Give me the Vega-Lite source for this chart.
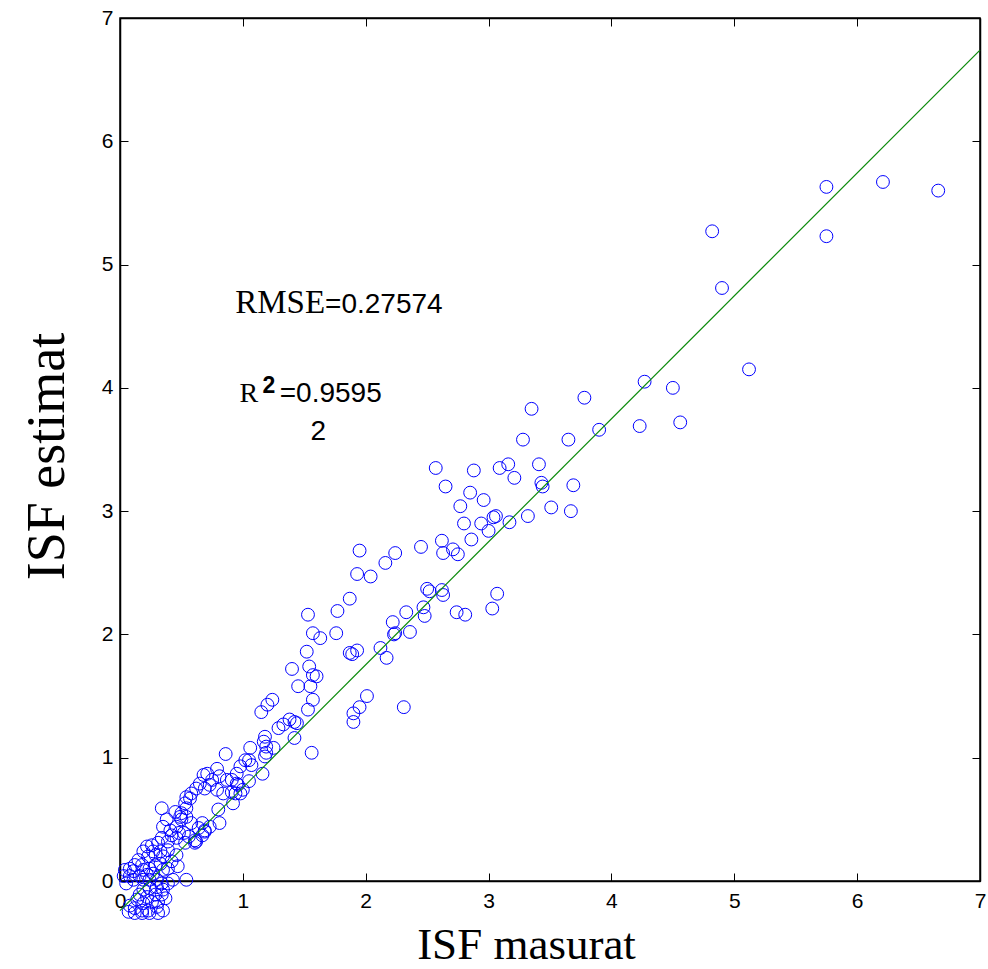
{
  "$schema": "https://vega.github.io/schema/vega-lite/v6.json",
  "width": 860,
  "height": 863,
  "autosize": {"type": "none"},
  "padding": {"left": 120, "top": 18, "right": 8, "bottom": 88},
  "background": "white",
  "config": {
    "view": {"stroke": "black", "strokeWidth": 1.5},
    "axis": {"grid": false, "domainColor": "black", "domainWidth": 1.5, "tickColor": "black", "tickWidth": 1, "labelColor": "black", "titleColor": "black", "labelFont": "Liberation Sans", "labelFontSize": 21, "labelFlush": false, "labelOverlap": false}
  },
  "datasets": {
    "points": [
      {"measured":5.75,"estimated":5.63},{"measured":6.21,"estimated":5.67},{"measured":6.66,"estimated":5.60},{"measured":4.82,"estimated":5.27},{"measured":5.75,"estimated":5.23},{"measured":4.90,"estimated":4.81},{"measured":5.12,"estimated":4.15},{"measured":4.27,"estimated":4.05},{"measured":4.50,"estimated":4.00},{"measured":4.23,"estimated":3.69},{"measured":4.56,"estimated":3.72},{"measured":3.90,"estimated":3.66},{"measured":3.78,"estimated":3.92},{"measured":3.35,"estimated":3.83},{"measured":3.28,"estimated":3.58},{"measured":3.65,"estimated":3.58},
      {"measured":2.57,"estimated":3.35},{"measured":2.88,"estimated":3.33},{"measured":3.09,"estimated":3.35},{"measured":3.16,"estimated":3.38},{"measured":3.41,"estimated":3.38},{"measured":3.21,"estimated":3.27},{"measured":2.65,"estimated":3.20},{"measured":3.44,"estimated":3.20},{"measured":3.43,"estimated":3.23},{"measured":3.69,"estimated":3.21},{"measured":2.85,"estimated":3.15},{"measured":2.96,"estimated":3.09},{"measured":2.77,"estimated":3.04},{"measured":3.51,"estimated":3.03},{"measured":3.67,"estimated":3.00},{"measured":3.32,"estimated":2.96},{"measured":3.06,"estimated":2.96},{"measured":3.04,"estimated":2.95},{"measured":2.80,"estimated":2.90},{"measured":2.94,"estimated":2.90},{"measured":3.17,"estimated":2.91},{"measured":3.00,"estimated":2.84},{"measured":2.86,"estimated":2.77},{"measured":2.62,"estimated":2.76},{"measured":2.45,"estimated":2.71},{"measured":2.63,"estimated":2.66},{"measured":2.71,"estimated":2.69},{"measured":2.75,"estimated":2.65},{"measured":2.24,"estimated":2.66},{"measured":1.95,"estimated":2.68},{"measured":2.16,"estimated":2.58},{"measured":1.93,"estimated":2.49},{"measured":2.04,"estimated":2.47},{"measured":1.87,"estimated":2.29},{"measured":1.77,"estimated":2.19},{"measured":1.76,"estimated":2.01},
      {"measured":2.50,"estimated":2.37},{"measured":2.52,"estimated":2.35},{"measured":2.62,"estimated":2.36},{"measured":2.63,"estimated":2.32},{"measured":3.07,"estimated":2.33},{"measured":3.03,"estimated":2.21},{"measured":2.33,"estimated":2.18},{"measured":2.47,"estimated":2.22},{"measured":2.48,"estimated":2.15},{"measured":2.74,"estimated":2.18},{"measured":2.81,"estimated":2.16},{"measured":2.22,"estimated":2.10},{"measured":2.23,"estimated":2.00},{"measured":2.24,"estimated":2.01},{"measured":2.36,"estimated":2.02},{"measured":2.12,"estimated":1.89},{"measured":2.17,"estimated":1.81},{"measured":1.87,"estimated":1.85},{"measured":1.93,"estimated":1.87},{"measured":1.89,"estimated":1.84},
      {"measured":1.53,"estimated":2.16},{"measured":1.57,"estimated":2.01},{"measured":1.63,"estimated":1.97},{"measured":1.52,"estimated":1.86},{"measured":1.40,"estimated":1.72},{"measured":1.54,"estimated":1.74},{"measured":1.57,"estimated":1.67},{"measured":1.60,"estimated":1.66},{"measured":1.45,"estimated":1.58},{"measured":1.55,"estimated":1.58},{"measured":1.57,"estimated":1.47},{"measured":1.53,"estimated":1.39},{"measured":2.01,"estimated":1.50},{"measured":1.95,"estimated":1.41},{"measured":1.90,"estimated":1.36},{"measured":1.90,"estimated":1.29},{"measured":2.31,"estimated":1.41},{"measured":1.24,"estimated":1.47},{"measured":1.20,"estimated":1.43},{"measured":1.15,"estimated":1.37},{"measured":1.56,"estimated":1.04},
      {"measured":1.42,"estimated":1.29},{"measured":1.44,"estimated":1.28},{"measured":1.42,"estimated":1.16},{"measured":1.38,"estimated":1.31},{"measured":1.33,"estimated":1.27},{"measured":1.29,"estimated":1.24},{"measured":1.18,"estimated":1.17},{"measured":1.17,"estimated":1.13},{"measured":1.19,"estimated":1.09},{"measured":1.25,"estimated":1.08},{"measured":1.18,"estimated":1.01},{"measured":1.19,"estimated":1.04},{"measured":1.06,"estimated":1.08},{"measured":1.02,"estimated":0.98},{"measured":1.05,"estimated":0.98},{"measured":0.98,"estimated":0.93},{"measured":0.95,"estimated":0.87},{"measured":0.91,"estimated":0.82},{"measured":0.96,"estimated":0.78},{"measured":0.86,"estimated":1.03},{"measured":1.16,"estimated":0.87},{"measured":1.07,"estimated":0.94},{"measured":1.05,"estimated":0.81},
      {"measured":0.68,"estimated":0.86},{"measured":0.79,"estimated":0.91},{"measured":0.81,"estimated":0.85},{"measured":0.75,"estimated":0.82},{"measured":0.65,"estimated":0.79},{"measured":0.69,"estimated":0.75},{"measured":0.62,"estimated":0.75},{"measured":0.79,"estimated":0.74},{"measured":0.58,"estimated":0.71},{"measured":0.54,"estimated":0.68},{"measured":0.84,"estimated":0.71},{"measured":0.91,"estimated":0.72},{"measured":0.98,"estimated":0.71},{"measured":0.92,"estimated":0.63},{"measured":0.94,"estimated":0.71},{"measured":1.00,"estimated":0.74},{"measured":0.95,"estimated":0.79},{"measured":0.87,"estimated":0.82},{"measured":0.71,"estimated":0.87},{"measured":0.73,"estimated":0.78},{"measured":0.57,"estimated":0.67},{"measured":0.53,"estimated":0.63},
      {"measured":0.34,"estimated":0.59},{"measured":0.54,"estimated":0.59},{"measured":0.49,"estimated":0.52},{"measured":0.80,"estimated":0.58},{"measured":0.45,"estimated":0.56},{"measured":0.38,"estimated":0.50},{"measured":0.35,"estimated":0.44},{"measured":0.41,"estimated":0.41},{"measured":0.46,"estimated":0.44},{"measured":0.50,"estimated":0.50},{"measured":0.50,"estimated":0.55},{"measured":0.54,"estimated":0.52},{"measured":0.58,"estimated":0.47},{"measured":0.64,"estimated":0.43},{"measured":0.69,"estimated":0.41},{"measured":0.62,"estimated":0.32},{"measured":0.67,"estimated":0.37},{"measured":0.61,"estimated":0.33},{"measured":0.69,"estimated":0.40},{"measured":0.67,"estimated":0.47},{"measured":0.73,"estimated":0.44},{"measured":0.81,"estimated":0.47},{"measured":0.52,"estimated":0.39},{"measured":0.46,"estimated":0.35},{"measured":0.48,"estimated":0.39},{"measured":0.56,"estimated":0.36},{"measured":0.53,"estimated":0.31},{"measured":0.61,"estimated":0.31},{"measured":0.46,"estimated":0.21},{"measured":0.39,"estimated":0.32},{"measured":0.31,"estimated":0.31},{"measured":0.34,"estimated":0.35},{"measured":0.42,"estimated":0.37},
      {"measured":0.22,"estimated":0.28},{"measured":0.26,"estimated":0.29},{"measured":0.27,"estimated":0.24},{"measured":0.19,"estimated":0.24},{"measured":0.23,"estimated":0.20},{"measured":0.29,"estimated":0.21},{"measured":0.33,"estimated":0.24},{"measured":0.35,"estimated":0.20},{"measured":0.39,"estimated":0.25},{"measured":0.15,"estimated":0.17},{"measured":0.12,"estimated":0.13},{"measured":0.18,"estimated":0.13},{"measured":0.08,"estimated":0.10},{"measured":0.04,"estimated":0.09},{"measured":0.11,"estimated":0.08},{"measured":0.19,"estimated":0.09},{"measured":0.24,"estimated":0.10},{"measured":0.29,"estimated":0.13},{"measured":0.33,"estimated":0.14},{"measured":0.35,"estimated":0.09},{"measured":0.39,"estimated":0.10},{"measured":0.27,"estimated":0.06},{"measured":0.22,"estimated":0.05},{"measured":0.16,"estimated":0.04},{"measured":0.08,"estimated":0.04},{"measured":0.03,"estimated":0.04},{"measured":0.05,"estimated":-0.02},{"measured":0.11,"estimated":0.01},{"measured":0.19,"estimated":0.01},{"measured":0.24,"estimated":0.01},{"measured":0.30,"estimated":0.01},{"measured":0.34,"estimated":-0.02},{"measured":0.39,"estimated":-0.02},{"measured":0.54,"estimated":0.01},{"measured":0.43,"estimated":0.01},{"measured":0.47,"estimated":0.12},{"measured":0.42,"estimated":0.16},
      {"measured":0.19,"estimated":-0.07},{"measured":0.24,"estimated":-0.06},{"measured":0.30,"estimated":-0.05},{"measured":0.35,"estimated":-0.07},{"measured":0.16,"estimated":-0.11},{"measured":0.22,"estimated":-0.13},{"measured":0.29,"estimated":-0.11},{"measured":0.34,"estimated":-0.11},{"measured":0.14,"estimated":-0.15},{"measured":0.19,"estimated":-0.18},{"measured":0.26,"estimated":-0.17},{"measured":0.31,"estimated":-0.17},{"measured":0.37,"estimated":-0.14},{"measured":0.08,"estimated":-0.20},{"measured":0.12,"estimated":-0.22},{"measured":0.18,"estimated":-0.24},{"measured":0.23,"estimated":-0.24},{"measured":0.30,"estimated":-0.21},{"measured":0.35,"estimated":-0.24},{"measured":0.07,"estimated":-0.25},{"measured":0.12,"estimated":-0.26},{"measured":0.18,"estimated":-0.26},{"measured":0.24,"estimated":-0.26},{"measured":0.31,"estimated":-0.26}
    ],
    "fit": [{"measured": 0, "estimated": -0.24}, {"measured": 7, "estimated": 6.74}],
    "notes": [{"t": "RMSE", "u": "=0.27574", "r": "R", "sup": "2", "eq": "=0.9595", "tail": "2"}]
  },
  "layer": [
    {
      "data": {"name": "points"},
      "mark": {"type": "point", "shape": "circle", "filled": false, "color": "#0000ff", "size": 165, "strokeWidth": 1, "opacity": 1},
      "encoding": {
        "x": {"field": "measured", "type": "quantitative", "scale": {"domain": [0, 7], "nice": false, "zero": false},
          "axis": {"orient": "bottom", "values": [0,1,2,3,4,5,6,7], "tickSize": -8, "labelPadding": 17, "labelDx": 6, "title": "ISF masurat", "titleFont": "Liberation Serif", "titleFontSize": 45, "titleFontWeight": "normal", "titleX": 406, "titleY": 77, "titleBaseline": "alphabetic", "titleAlign": "center"}},
        "y": {"field": "estimated", "type": "quantitative", "scale": {"domain": [0, 7], "nice": false, "zero": false},
          "axis": {"orient": "left", "values": [0,1,2,3,4,5,6,7], "tickSize": -8, "labelPadding": 15, "labelBaseline": "middle", "title": "ISF estimat", "titleFont": "Liberation Serif", "titleFontSize": 54, "titleFontWeight": "normal", "titleX": -57, "titleY": 438, "titleAngle": -90, "titleBaseline": "alphabetic", "titleAlign": "center"}}
      }
    },
    {
      "data": {"name": "fit"},
      "mark": {"type": "line", "color": "#0a8a0a", "strokeWidth": 1.2},
      "encoding": {
        "x": {"field": "measured", "type": "quantitative", "axis": null},
        "y": {"field": "estimated", "type": "quantitative", "axis": null}
      }
    },
    {
      "data": {"name": "notes"},
      "mark": {"type": "text", "font": "Liberation Serif", "fontSize": 33, "align": "right", "baseline": "alphabetic", "color": "black"},
      "encoding": {"x": {"datum": 1.669, "type": "quantitative", "axis": null}, "y": {"datum": 4.607, "type": "quantitative", "axis": null}, "text": {"field": "t"}}
    },
    {
      "data": {"name": "notes"},
      "mark": {"type": "text", "font": "Liberation Sans", "fontSize": 28, "align": "left", "baseline": "alphabetic", "color": "black"},
      "encoding": {"x": {"datum": 1.669, "type": "quantitative", "axis": null}, "y": {"datum": 4.607, "type": "quantitative", "axis": null}, "text": {"field": "u"}}
    },
    {
      "data": {"name": "notes"},
      "mark": {"type": "text", "font": "Liberation Serif", "fontSize": 28, "align": "right", "baseline": "alphabetic", "color": "black"},
      "encoding": {"x": {"datum": 1.125, "type": "quantitative", "axis": null}, "y": {"datum": 3.888, "type": "quantitative", "axis": null}, "text": {"field": "r"}}
    },
    {
      "data": {"name": "notes"},
      "mark": {"type": "text", "font": "Liberation Sans", "fontSize": 23, "fontWeight": "bold", "align": "left", "baseline": "alphabetic", "color": "black"},
      "encoding": {"x": {"datum": 1.160, "type": "quantitative", "axis": null}, "y": {"datum": 3.956, "type": "quantitative", "axis": null}, "text": {"field": "sup"}}
    },
    {
      "data": {"name": "notes"},
      "mark": {"type": "text", "font": "Liberation Sans", "fontSize": 28, "align": "left", "baseline": "alphabetic", "color": "black"},
      "encoding": {"x": {"datum": 1.300, "type": "quantitative", "axis": null}, "y": {"datum": 3.888, "type": "quantitative", "axis": null}, "text": {"field": "eq"}}
    },
    {
      "data": {"name": "notes"},
      "mark": {"type": "text", "font": "Liberation Sans", "fontSize": 28, "align": "center", "baseline": "alphabetic", "color": "black"},
      "encoding": {"x": {"datum": 1.614, "type": "quantitative", "axis": null}, "y": {"datum": 3.577, "type": "quantitative", "axis": null}, "text": {"field": "tail"}}
    },
    {
      "data": {"name": "fit"},
      "mark": {"type": "point", "opacity": 0},
      "encoding": {
        "x": {"field": "measured", "type": "quantitative", "axis": {"orient": "top", "values": [0,1,2,3,4,5,6,7], "tickSize": -8, "labels": false, "title": null}},
        "y": {"field": "estimated", "type": "quantitative", "axis": {"orient": "right", "values": [0,1,2,3,4,5,6,7], "tickSize": -8, "labels": false, "title": null}}
      }
    }
  ],
  "resolve": {"axis": {"x": "independent", "y": "independent"}}
}
